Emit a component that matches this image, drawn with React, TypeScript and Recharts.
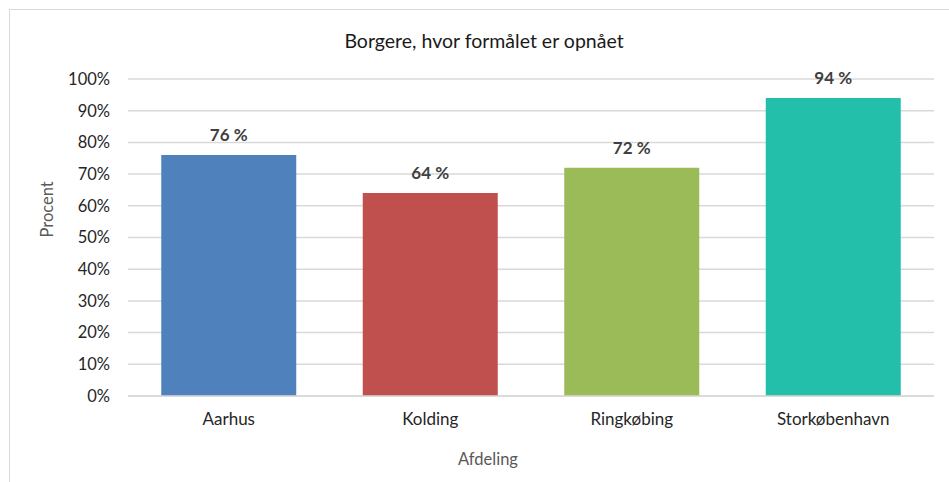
import React from 'react';
import { BarChart, Bar, XAxis, YAxis, CartesianGrid, LabelList, Cell } from 'recharts';

const afdelinger = ['Aarhus', 'Kolding', 'Ringkøbing', 'Storkøbenhavn'];
const procent = [76, 64, 72, 94];
const farver = ['#4F81BD', '#C0504D', '#9BBB59', '#23BFAA'];
const yTicks = [0, 10, 20, 30, 40, 50, 60, 70, 80, 90, 100];

const data = afdelinger.map((navn, i) => ({ navn, procent: procent[i] }));

const FONT = 'Lato, "Open Sans", sans-serif';

const App: React.FC = () => {
    return (
        <div style={{ position: 'absolute', left: 0, top: 0, width: 949, height: 482, overflow: 'hidden', background: '#fff', fontFamily: FONT }}>
            <div style={{ position: 'absolute', left: 9, top: 9, width: 980, height: 520, border: '1px solid #d9d9d9', boxSizing: 'border-box' }} />
            <div style={{ position: 'absolute', left: 0, width: 968, top: 29, textAlign: 'center', fontSize: 19.5, color: '#1a1a1a' }}>
                Borgere, hvor formålet er opnået
            </div>
            <div style={{ position: 'absolute', left: 0, top: 0 }}>
                <BarChart
                    width={949}
                    height={482}
                    data={data}
                    margin={{ top: 79, right: 15, bottom: 0, left: 0 }}
                    barCategoryGap="16.5%"
                >
                    <CartesianGrid vertical={false} stroke="#d9d9d9" strokeWidth={1.5} />
                    <XAxis
                        dataKey="navn"
                        height={86}
                        tickLine={false}
                        tickSize={0}
                        tickMargin={17}
                        axisLine={{ stroke: '#d9d9d9', strokeWidth: 1.5 }}
                        tick={{ fill: '#262626', fontSize: 17, fontFamily: FONT }}
                        label={{ value: 'Afdeling', position: 'insideBottom', offset: 17, dx: -43, fill: '#595959', fontSize: 16.5, fontFamily: FONT }}
                    />
                    <YAxis
                        width={128}
                        domain={[0, 100]}
                        ticks={yTicks}
                        tickFormatter={(v: number) => `${v}%`}
                        axisLine={false}
                        tickLine={false}
                        tickMargin={12}
                        tick={{ fill: '#262626', fontSize: 16.5, fontFamily: FONT }}
                        label={{ value: 'Procent', angle: -90, position: 'insideLeft', offset: 47, fill: '#595959', fontSize: 16.5, fontFamily: FONT }}
                    />
                    <Bar dataKey="procent" isAnimationActive={false}>
                        {data.map((d, i) => (
                            <Cell key={d.navn} fill={farver[i]} />
                        ))}
                        <LabelList
                            dataKey="procent"
                            position="top"
                            offset={14}
                            formatter={(v: number) => `${v} %`}
                            fill="#404040"
                            fontSize={17}
                            fontWeight="bold"
                            fontFamily={FONT}
                        />
                    </Bar>
                </BarChart>
            </div>
        </div>
    );
};

export default App;
